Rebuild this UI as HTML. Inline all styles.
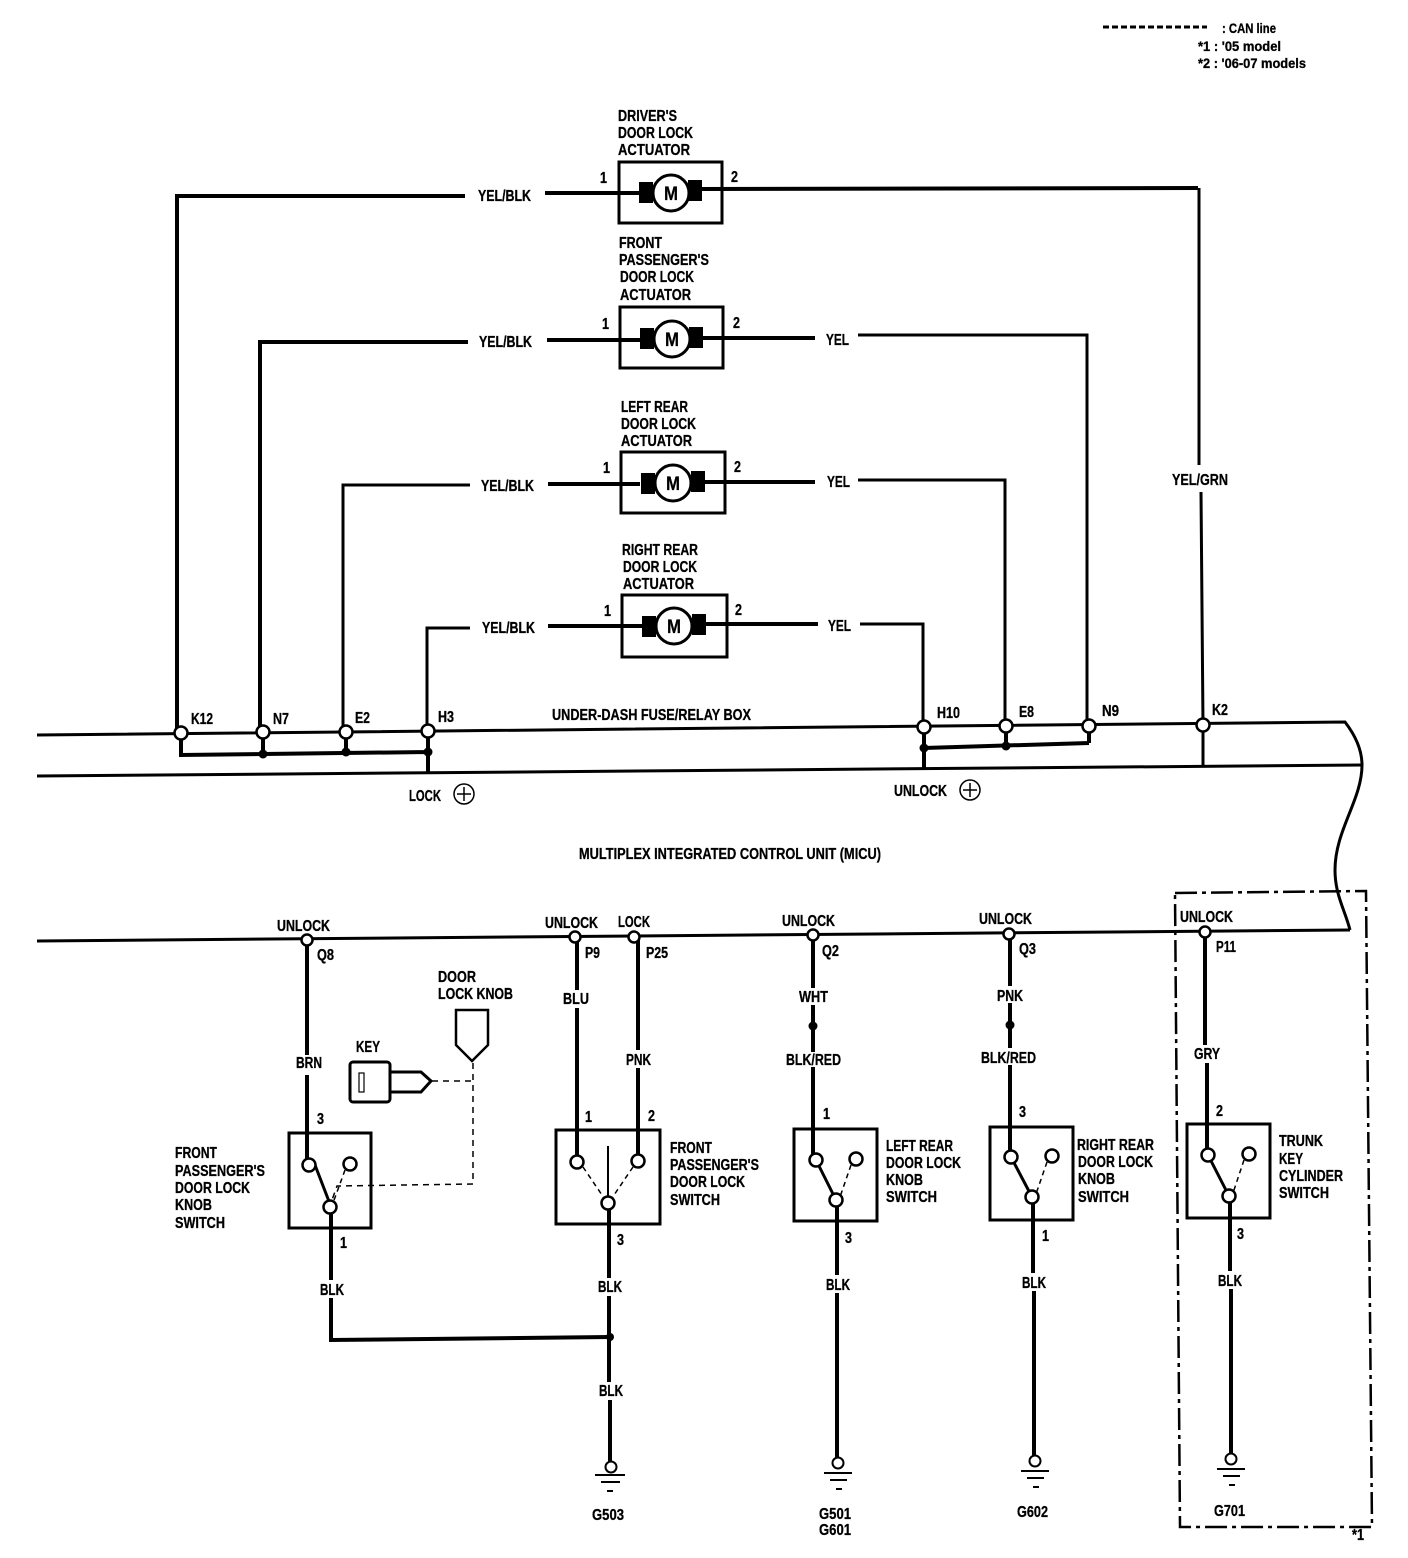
<!DOCTYPE html>
<html><head><meta charset="utf-8"><style>
html,body{margin:0;padding:0;background:#fff}
svg{display:block}
text{font-family:"Liberation Sans",sans-serif;font-weight:bold;font-size:16px;fill:#000;stroke:#000;stroke-width:.3}
.w{fill:none;stroke:#000;stroke-width:4}
.t{fill:none;stroke:#000;stroke-width:3}
.b{fill:none;stroke:#000;stroke-width:2.5}
.n{fill:#fff;stroke:#000;stroke-width:2.5}
.d{fill:none;stroke:#000;stroke-width:1.5;stroke-dasharray:6 5}
</style></head><body>
<svg width="1408" height="1558" viewBox="0 0 1408 1558" xmlns="http://www.w3.org/2000/svg">
<!-- legend -->
<path d="M1103 27H1207" fill="none" stroke="#000" stroke-width="3" stroke-dasharray="6 3"/>
<g style="font-size:14px">
<text x="1222" y="33" textLength="54" lengthAdjust="spacingAndGlyphs" style="font-size:14px">: CAN line</text>
<text x="1198" y="51" textLength="83" lengthAdjust="spacingAndGlyphs" style="font-size:14px">*1 : '05 model</text>
<text x="1198" y="68" textLength="108" lengthAdjust="spacingAndGlyphs" style="font-size:14px">*2 : '06-07 models</text>
</g>
<!-- actuator wiring -->
<path class="w" d="M181 733L177 733V196H465M545 193H640M702 189L1198 188"/>
<path class="t" d="M1199 188V465M1201 492L1203 725"/>
<path class="w" d="M263 732L260 731V342H468M547 340H640"/>
<path class="w" d="M703 338H815"/>
<path class="t" d="M858 335H1087V726"/>
<path class="t" d="M346 732L343 730V485H470"/>
<path class="w" d="M548 484H640M705 482H815"/>
<path class="t" d="M858 480H1005V726"/>
<path class="t" d="M428 731L427 728V628H470"/>
<path class="w" d="M548 626H642M706 624H818"/>
<path class="t" d="M860 624H923V727"/>
<!-- actuators -->
<g id="a1">
<rect class="b" x="619" y="162" width="103" height="61" style="stroke-width:3"/>
<rect x="639" y="182" width="14" height="21"/><rect x="688" y="180" width="14" height="21"/>
<circle class="n" cx="671" cy="193" r="18" style="stroke-width:3"/>
<text x="664" y="200" textLength="14" lengthAdjust="spacingAndGlyphs" style="font-size:19px">M</text>
</g>
<rect class="b" x="620" y="307" width="103" height="61" style="stroke-width:3"/>
<rect x="640" y="328" width="14" height="21"/><rect x="689" y="327" width="14" height="21"/>
<circle class="n" cx="672" cy="339" r="18" style="stroke-width:3"/>
<text x="665" y="346" textLength="14" lengthAdjust="spacingAndGlyphs" style="font-size:19px">M</text>
<rect class="b" x="621" y="452" width="104" height="61" style="stroke-width:3"/>
<rect x="641" y="473" width="14" height="21"/><rect x="691" y="471" width="14" height="21"/>
<circle class="n" cx="673" cy="483" r="18" style="stroke-width:3"/>
<text x="666" y="490" textLength="14" lengthAdjust="spacingAndGlyphs" style="font-size:19px">M</text>
<rect class="b" x="622" y="595" width="105" height="62" style="stroke-width:3"/>
<rect x="642" y="616" width="14" height="21"/><rect x="692" y="614" width="14" height="21"/>
<circle class="n" cx="674" cy="626" r="18" style="stroke-width:3"/>
<text x="667" y="633" textLength="14" lengthAdjust="spacingAndGlyphs" style="font-size:19px">M</text>
<!-- bus -->
<path class="t" d="M37 735L1345 722C1355 735 1362 750 1362 765C1362 800 1335 830 1335 870C1335 895 1345 910 1350 930"/>
<path class="t" d="M37 776L1362 765"/>
<path class="w" d="M181 733V755L428 752M263 732V754M346 732V752M428 731V772"/>
<path class="w" d="M924 727V769M924 748L1089 743M1006 726V746M1089 726V743"/>
<path class="t" d="M1203 725V767"/>
<circle cx="263" cy="754" r="4.5"/><circle cx="346" cy="752" r="4.5"/><circle cx="428" cy="752" r="4.5"/>
<circle cx="924" cy="748" r="4.5"/><circle cx="1006" cy="746" r="4.5"/>
<circle class="n" cx="181" cy="733" r="6.5"/><circle class="n" cx="263" cy="732" r="6.5"/><circle class="n" cx="346" cy="732" r="6.5"/><circle class="n" cx="428" cy="731" r="6.5"/>
<circle class="n" cx="924" cy="727" r="6.5"/><circle class="n" cx="1006" cy="726" r="6.5"/><circle class="n" cx="1089" cy="726" r="6.5"/><circle class="n" cx="1203" cy="725" r="6.5"/>
<circle cx="464" cy="794" r="10" fill="none" stroke="#000" stroke-width="1.5"/><path d="M457 794H471M464 787V801" stroke="#000" stroke-width="1.5"/>
<circle cx="970" cy="790" r="10" fill="none" stroke="#000" stroke-width="1.5"/><path d="M963 790H977M970 783V797" stroke="#000" stroke-width="1.5"/>
<!-- lower bus -->
<path class="t" d="M37 941L1350 930"/>
<path class="w" d="M307 940V1055M307 1075V1165"/>
<path class="w" d="M577 937V990M577 1008V1162M638 937V1050M638 1068V1161"/>
<path class="w" d="M813 935V988M813 1005V1052M813 1067V1160"/>
<path class="w" d="M1010 934V986M1010 1003V1048M1010 1065V1157"/>
<path class="w" d="M1205 932V1045M1207 1063V1155"/>
<circle cx="813" cy="1026" r="4.5"/><circle cx="1010" cy="1025" r="4.5"/>
<path class="w" d="M331 1207V1280M331 1298V1340L610 1337"/>
<path class="w" d="M609 1203V1278M609 1296V1382M610 1400V1465"/>
<circle cx="610" cy="1337" r="4"/>
<path class="w" d="M837 1200V1275M837 1293V1463"/>
<path class="w" d="M1033 1197V1273M1034 1291V1461"/>
<path class="w" d="M1230 1196V1271M1231 1289V1459"/>
<!-- switches -->
<g fill="none" stroke="#000" stroke-width="3">
<rect x="289" y="1133" width="82" height="95"/><rect x="556" y="1130" width="104" height="94"/><rect x="794" y="1129" width="83" height="92"/><rect x="990" y="1127" width="83" height="93"/><rect x="1187" y="1124" width="83" height="94"/>
<path d="M315 1165L330 1204M816 1160L836 1200M1011 1157L1032 1197M1208 1155L1229 1196"/>
<path d="M608 1146V1200" stroke-width="2"/>
</g>
<g fill="none" stroke="#000" stroke-width="1.5" stroke-dasharray="5 4">
<path d="M345 1170L333 1203M851 1165L840 1197M1047 1162L1036 1194M1244 1160L1233 1193"/>
<path d="M583 1167L604 1198M633 1167L612 1198"/>
</g>
<g class="n">
<circle class="n" cx="309" cy="1165" r="6.5"/><circle class="n" cx="350" cy="1164" r="6.5"/><circle class="n" cx="330" cy="1207" r="6.5"/>
<circle class="n" cx="577" cy="1162" r="6.5"/><circle class="n" cx="638" cy="1161" r="6.5"/><circle class="n" cx="608" cy="1203" r="6.5"/>
<circle class="n" cx="816" cy="1160" r="6.5"/><circle class="n" cx="856" cy="1159" r="6.5"/><circle class="n" cx="836" cy="1200" r="6.5"/>
<circle class="n" cx="1011" cy="1157" r="6.5"/><circle class="n" cx="1052" cy="1156" r="6.5"/><circle class="n" cx="1032" cy="1197" r="6.5"/>
<circle class="n" cx="1208" cy="1155" r="6.5"/><circle class="n" cx="1249" cy="1154" r="6.5"/><circle class="n" cx="1229" cy="1196" r="6.5"/>
<circle class="n" cx="307" cy="940" r="5.5"/><circle class="n" cx="575" cy="937" r="5.5"/><circle class="n" cx="634" cy="937" r="5.5"/><circle class="n" cx="813" cy="935" r="5.5"/><circle class="n" cx="1009" cy="934" r="5.5"/><circle class="n" cx="1205" cy="932" r="5.5"/>
</g>
<!-- key and knob -->
<rect x="350" y="1062" width="40" height="40" rx="3" fill="none" stroke="#000" stroke-width="3"/>
<rect x="359" y="1073" width="5" height="19" fill="none" stroke="#000" stroke-width="1.2"/>
<path d="M390 1072H421L431 1081L421 1092H390" fill="none" stroke="#000" stroke-width="3"/>
<path d="M456 1010H488V1045L472 1061L456 1045Z" fill="none" stroke="#000" stroke-width="2.5"/>
<path class="d" d="M432 1081H473M473 1063V1184L337 1186L332 1200"/>
<!-- grounds -->
<g fill="#fff" stroke="#000" stroke-width="2">
<circle cx="611" cy="1467" r="5.5"/><circle cx="838" cy="1463" r="5.5"/><circle cx="1035" cy="1461" r="5.5"/><circle cx="1231" cy="1459" r="5.5"/>
<path d="M595 1475H625M601 1482H620M607 1491H613"/>
<path d="M824 1473H852M830 1480H847M836 1489H842"/>
<path d="M1021 1471H1049M1027 1478H1044M1033 1487H1039"/>
<path d="M1217 1469H1245M1223 1476H1240M1229 1485H1235"/>
</g>
<!-- dash-dot frame -->
<path d="M1175 893L1366 891L1372 1527H1180Z" fill="none" stroke="#000" stroke-width="2.5" stroke-dasharray="22 5 4 5"/>
<!-- labels -->
<g transform="translate(0,-1)">
<text x="618" y="122" textLength="59" lengthAdjust="spacingAndGlyphs">DRIVER'S</text>
<text x="618" y="139" textLength="75" lengthAdjust="spacingAndGlyphs">DOOR LOCK</text>
<text x="618" y="156" textLength="72" lengthAdjust="spacingAndGlyphs">ACTUATOR</text>
<text x="619" y="249" textLength="43" lengthAdjust="spacingAndGlyphs">FRONT</text>
<text x="619" y="266" textLength="90" lengthAdjust="spacingAndGlyphs">PASSENGER'S</text>
<text x="620" y="283" textLength="74" lengthAdjust="spacingAndGlyphs">DOOR LOCK</text>
<text x="620" y="301" textLength="71" lengthAdjust="spacingAndGlyphs">ACTUATOR</text>
<text x="621" y="413" textLength="67" lengthAdjust="spacingAndGlyphs">LEFT REAR</text>
<text x="621" y="430" textLength="75" lengthAdjust="spacingAndGlyphs">DOOR LOCK</text>
<text x="621" y="447" textLength="71" lengthAdjust="spacingAndGlyphs">ACTUATOR</text>
<text x="622" y="556" textLength="76" lengthAdjust="spacingAndGlyphs">RIGHT REAR</text>
<text x="623" y="573" textLength="74" lengthAdjust="spacingAndGlyphs">DOOR LOCK</text>
<text x="623" y="590" textLength="71" lengthAdjust="spacingAndGlyphs">ACTUATOR</text>
<text x="600" y="184" textLength="7" lengthAdjust="spacingAndGlyphs">1</text><text x="731" y="183" textLength="7" lengthAdjust="spacingAndGlyphs">2</text>
<text x="602" y="330" textLength="7" lengthAdjust="spacingAndGlyphs">1</text><text x="733" y="329" textLength="7" lengthAdjust="spacingAndGlyphs">2</text>
<text x="603" y="474" textLength="7" lengthAdjust="spacingAndGlyphs">1</text><text x="734" y="473" textLength="7" lengthAdjust="spacingAndGlyphs">2</text>
<text x="604" y="617" textLength="7" lengthAdjust="spacingAndGlyphs">1</text><text x="735" y="616" textLength="7" lengthAdjust="spacingAndGlyphs">2</text>
<text x="478" y="202" textLength="53" lengthAdjust="spacingAndGlyphs">YEL/BLK</text>
<text x="479" y="348" textLength="53" lengthAdjust="spacingAndGlyphs">YEL/BLK</text>
<text x="481" y="492" textLength="53" lengthAdjust="spacingAndGlyphs">YEL/BLK</text>
<text x="482" y="634" textLength="53" lengthAdjust="spacingAndGlyphs">YEL/BLK</text>
<text x="826" y="346" textLength="23" lengthAdjust="spacingAndGlyphs">YEL</text>
<text x="827" y="488" textLength="23" lengthAdjust="spacingAndGlyphs">YEL</text>
<text x="828" y="632" textLength="23" lengthAdjust="spacingAndGlyphs">YEL</text>
<text x="1172" y="486" textLength="56" lengthAdjust="spacingAndGlyphs">YEL/GRN</text>
<text x="191" y="725" textLength="22" lengthAdjust="spacingAndGlyphs">K12</text>
<text x="273" y="725" textLength="16" lengthAdjust="spacingAndGlyphs">N7</text>
<text x="355" y="724" textLength="15" lengthAdjust="spacingAndGlyphs">E2</text>
<text x="438" y="723" textLength="16" lengthAdjust="spacingAndGlyphs">H3</text>
<text x="937" y="719" textLength="23" lengthAdjust="spacingAndGlyphs">H10</text>
<text x="1019" y="718" textLength="15" lengthAdjust="spacingAndGlyphs">E8</text>
<text x="1102" y="717" textLength="17" lengthAdjust="spacingAndGlyphs">N9</text>
<text x="1212" y="716" textLength="16" lengthAdjust="spacingAndGlyphs">K2</text>
<text x="552" y="721" textLength="199" lengthAdjust="spacingAndGlyphs">UNDER-DASH FUSE/RELAY BOX</text>
<text x="409" y="802" textLength="32" lengthAdjust="spacingAndGlyphs">LOCK</text>
<text x="894" y="797" textLength="53" lengthAdjust="spacingAndGlyphs">UNLOCK</text>
<text x="579" y="860" textLength="302" lengthAdjust="spacingAndGlyphs">MULTIPLEX INTEGRATED CONTROL UNIT (MICU)</text>
<text x="277" y="932" textLength="53" lengthAdjust="spacingAndGlyphs">UNLOCK</text>
<text x="317" y="961" textLength="17" lengthAdjust="spacingAndGlyphs">Q8</text>
<text x="545" y="929" textLength="53" lengthAdjust="spacingAndGlyphs">UNLOCK</text>
<text x="585" y="959" textLength="15" lengthAdjust="spacingAndGlyphs">P9</text>
<text x="618" y="928" textLength="32" lengthAdjust="spacingAndGlyphs">LOCK</text>
<text x="646" y="959" textLength="22" lengthAdjust="spacingAndGlyphs">P25</text>
<text x="782" y="927" textLength="53" lengthAdjust="spacingAndGlyphs">UNLOCK</text>
<text x="822" y="957" textLength="17" lengthAdjust="spacingAndGlyphs">Q2</text>
<text x="979" y="925" textLength="53" lengthAdjust="spacingAndGlyphs">UNLOCK</text>
<text x="1019" y="955" textLength="17" lengthAdjust="spacingAndGlyphs">Q3</text>
<text x="1180" y="923" textLength="53" lengthAdjust="spacingAndGlyphs">UNLOCK</text>
<text x="1216" y="953" textLength="20" lengthAdjust="spacingAndGlyphs">P11</text>
<text x="296" y="1069" textLength="26" lengthAdjust="spacingAndGlyphs">BRN</text>
<text x="563" y="1005" textLength="26" lengthAdjust="spacingAndGlyphs">BLU</text>
<text x="626" y="1066" textLength="25" lengthAdjust="spacingAndGlyphs">PNK</text>
<text x="799" y="1003" textLength="29" lengthAdjust="spacingAndGlyphs">WHT</text>
<text x="786" y="1066" textLength="55" lengthAdjust="spacingAndGlyphs">BLK/RED</text>
<text x="997" y="1002" textLength="26" lengthAdjust="spacingAndGlyphs">PNK</text>
<text x="981" y="1064" textLength="55" lengthAdjust="spacingAndGlyphs">BLK/RED</text>
<text x="1194" y="1060" textLength="26" lengthAdjust="spacingAndGlyphs">GRY</text>
<text x="356" y="1053" textLength="24" lengthAdjust="spacingAndGlyphs">KEY</text>
<text x="438" y="983" textLength="38" lengthAdjust="spacingAndGlyphs">DOOR</text>
<text x="438" y="1000" textLength="75" lengthAdjust="spacingAndGlyphs">LOCK KNOB</text>
<text x="317" y="1125" textLength="7" lengthAdjust="spacingAndGlyphs">3</text><text x="585" y="1123" textLength="7" lengthAdjust="spacingAndGlyphs">1</text><text x="648" y="1122" textLength="7" lengthAdjust="spacingAndGlyphs">2</text><text x="823" y="1120" textLength="7" lengthAdjust="spacingAndGlyphs">1</text><text x="1019" y="1118" textLength="7" lengthAdjust="spacingAndGlyphs">3</text><text x="1216" y="1117" textLength="7" lengthAdjust="spacingAndGlyphs">2</text>
<text x="340" y="1249" textLength="7" lengthAdjust="spacingAndGlyphs">1</text><text x="617" y="1246" textLength="7" lengthAdjust="spacingAndGlyphs">3</text><text x="845" y="1244" textLength="7" lengthAdjust="spacingAndGlyphs">3</text><text x="1042" y="1242" textLength="7" lengthAdjust="spacingAndGlyphs">1</text><text x="1237" y="1240" textLength="7" lengthAdjust="spacingAndGlyphs">3</text>
<text x="320" y="1296" textLength="24" lengthAdjust="spacingAndGlyphs">BLK</text>
<text x="598" y="1293" textLength="24" lengthAdjust="spacingAndGlyphs">BLK</text>
<text x="599" y="1397" textLength="24" lengthAdjust="spacingAndGlyphs">BLK</text>
<text x="826" y="1291" textLength="24" lengthAdjust="spacingAndGlyphs">BLK</text>
<text x="1022" y="1289" textLength="24" lengthAdjust="spacingAndGlyphs">BLK</text>
<text x="1218" y="1287" textLength="24" lengthAdjust="spacingAndGlyphs">BLK</text>
<text x="175" y="1159" textLength="42" lengthAdjust="spacingAndGlyphs">FRONT</text>
<text x="175" y="1177" textLength="90" lengthAdjust="spacingAndGlyphs">PASSENGER'S</text>
<text x="175" y="1194" textLength="75" lengthAdjust="spacingAndGlyphs">DOOR LOCK</text>
<text x="175" y="1211" textLength="37" lengthAdjust="spacingAndGlyphs">KNOB</text>
<text x="175" y="1229" textLength="50" lengthAdjust="spacingAndGlyphs">SWITCH</text>
<text x="670" y="1154" textLength="42" lengthAdjust="spacingAndGlyphs">FRONT</text>
<text x="670" y="1171" textLength="89" lengthAdjust="spacingAndGlyphs">PASSENGER'S</text>
<text x="670" y="1188" textLength="75" lengthAdjust="spacingAndGlyphs">DOOR LOCK</text>
<text x="670" y="1206" textLength="50" lengthAdjust="spacingAndGlyphs">SWITCH</text>
<text x="886" y="1152" textLength="67" lengthAdjust="spacingAndGlyphs">LEFT REAR</text>
<text x="886" y="1169" textLength="75" lengthAdjust="spacingAndGlyphs">DOOR LOCK</text>
<text x="886" y="1186" textLength="37" lengthAdjust="spacingAndGlyphs">KNOB</text>
<text x="886" y="1203" textLength="51" lengthAdjust="spacingAndGlyphs">SWITCH</text>
<text x="1077" y="1151" textLength="77" lengthAdjust="spacingAndGlyphs">RIGHT REAR</text>
<text x="1078" y="1168" textLength="75" lengthAdjust="spacingAndGlyphs">DOOR LOCK</text>
<text x="1078" y="1185" textLength="37" lengthAdjust="spacingAndGlyphs">KNOB</text>
<text x="1078" y="1203" textLength="51" lengthAdjust="spacingAndGlyphs">SWITCH</text>
<text x="1279" y="1147" textLength="44" lengthAdjust="spacingAndGlyphs">TRUNK</text>
<text x="1279" y="1165" textLength="24" lengthAdjust="spacingAndGlyphs">KEY</text>
<text x="1279" y="1182" textLength="64" lengthAdjust="spacingAndGlyphs">CYLINDER</text>
<text x="1279" y="1199" textLength="50" lengthAdjust="spacingAndGlyphs">SWITCH</text>
<text x="592" y="1521" textLength="32" lengthAdjust="spacingAndGlyphs">G503</text>
<text x="819" y="1520" textLength="32" lengthAdjust="spacingAndGlyphs">G501</text>
<text x="819" y="1536" textLength="32" lengthAdjust="spacingAndGlyphs">G601</text>
<text x="1017" y="1518" textLength="31" lengthAdjust="spacingAndGlyphs">G602</text>
<text x="1214" y="1517" textLength="31" lengthAdjust="spacingAndGlyphs">G701</text>
<text x="1352" y="1541" textLength="12" lengthAdjust="spacingAndGlyphs">*1</text>
</g>
</svg>
</body></html>
